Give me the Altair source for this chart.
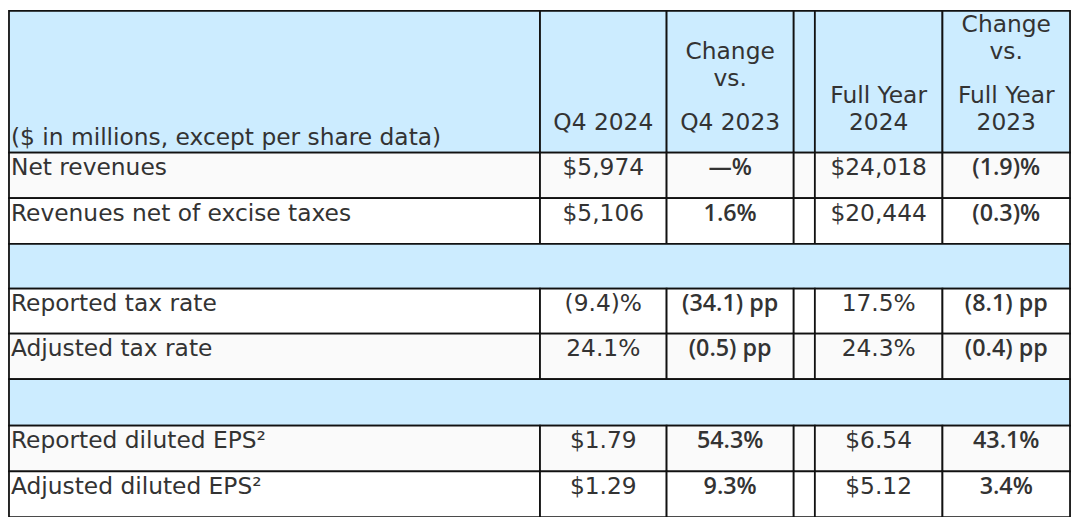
import altair as alt
import pandas as pd

# ---------------- data ----------------
header_label = "($ in millions, except per share data)"
col_keys = ["label", "q4", "chg_q4", "gap", "fy", "chg_fy"]
header_cols = {
    "q4": [["Q4 2024"]],
    "chg_q4": [["Change", "vs."], ["Q4 2023"]],
    "fy": [["Full Year", "2024"]],
    "chg_fy": [["Change", "vs."], ["Full Year", "2023"]],
}
row_labels = ["Net revenues", "Revenues net of excise taxes", None,
              "Reported tax rate", "Adjusted tax rate", None,
              "Reported diluted EPS²", "Adjusted diluted EPS²"]
q4_2024 = ["$5,974", "$5,106", None, "(9.4)%", "24.1%", None, "$1.79", "$1.29"]
chg_q4 = ["—%", "1.6%", None, "(34.1) pp", "(0.5) pp", None, "54.3%", "9.3%"]
fy_2024 = ["$24,018", "$20,444", None, "17.5%", "24.3%", None, "$6.54", "$5.12"]
chg_fy = ["(1.9)%", "(0.3)%", None, "(8.1) pp", "(0.4) pp", None, "43.1%", "3.4%"]
row_shaded = [True, False, None, False, True, None, True, False]

# ---------------- layout ----------------
col_edges = [1, 540, 668.5, 797.5, 819, 948.5, 1078]
row_edges = [1, 146, 192.7, 239.4, 285.3, 331.3, 377.8, 425.5, 472.3, 519]
BLUE = "#CCECFF"
SHADE = "#FAFAFA"
WHITE = "#FFFFFF"
TXT = "#333333"
FONT = "DejaVu Sans"
FS = 23.5
BOLD_FONT = "Open Sans"
BOLD_FS = 23.5
LINE = 27.5
PARA = 17
HEADER_BASE = 122.5
ROW_BASE = 23

cells, texts = [], []
for i, k in enumerate(col_keys):
    cells.append(dict(x=col_edges[i], x2=col_edges[i + 1], y=row_edges[0], y2=row_edges[1], fill=BLUE))
texts.append(dict(x=col_edges[0] + 2, y=138, t=header_label, al="left", bold=False))
for k, paras in header_cols.items():
    i = col_keys.index(k)
    cx = (col_edges[i] + col_edges[i + 1]) / 2
    yb = HEADER_BASE
    for p in reversed(paras):
        for line in reversed(p):
            texts.append(dict(x=cx, y=yb, t=line, al="center", bold=False))
            yb -= LINE
        yb -= PARA

values = {"q4": q4_2024, "chg_q4": chg_q4, "fy": fy_2024, "chg_fy": chg_fy}
bold_cols = {"chg_q4", "chg_fy"}
for r, lab in enumerate(row_labels):
    top, bot = row_edges[r + 1], row_edges[r + 2]
    if lab is None:
        cells.append(dict(x=col_edges[0], x2=col_edges[-1], y=top, y2=bot, fill=BLUE))
        continue
    fill = SHADE if row_shaded[r] else WHITE
    for i, k in enumerate(col_keys):
        cells.append(dict(x=col_edges[i], x2=col_edges[i + 1], y=top, y2=bot, fill=fill))
    texts.append(dict(x=col_edges[0] + 2, y=top + ROW_BASE, t=lab, al="left", bold=False))
    for k, vals in values.items():
        i = col_keys.index(k)
        cx = (col_edges[i] + col_edges[i + 1]) / 2
        texts.append(dict(x=cx, y=top + ROW_BASE, t=vals[r], al="center", bold=k in bold_cols))

cells_df = pd.DataFrame(cells)
texts_df = pd.DataFrame(texts)

xs = alt.Scale(domain=[0, 1080], nice=False, zero=False)
ys = alt.Scale(domain=[0, 517], nice=False, zero=False, reverse=True)

rects = alt.Chart(cells_df).mark_rect(stroke="#111111", strokeWidth=1.8).encode(
    x=alt.X("x:Q", scale=xs, axis=None),
    x2="x2:Q",
    y=alt.Y("y:Q", scale=ys, axis=None),
    y2="y2:Q",
    fill=alt.Fill("fill:N", scale=None),
)

def text_layer(align, bold):
    d = texts_df[(texts_df["al"] == align) & (texts_df["bold"] == bold)]
    return alt.Chart(d).mark_text(
        align=align, baseline="alphabetic",
        font=BOLD_FONT if bold else FONT,
        fontSize=BOLD_FS if bold else FS,
        fontWeight=600 if bold else 400, color=TXT,
    ).encode(
        x=alt.X("x:Q", scale=xs, axis=None),
        y=alt.Y("y:Q", scale=ys, axis=None),
        text="t:N",
    )

chart = alt.layer(
    rects,
    text_layer("left", False),
    text_layer("center", False),
    text_layer("center", True),
).properties(width=1072, height=509, padding=0).configure_view(stroke=None)

chart.save("out.html", embed_options={"renderer": "svg", "actions": False})
